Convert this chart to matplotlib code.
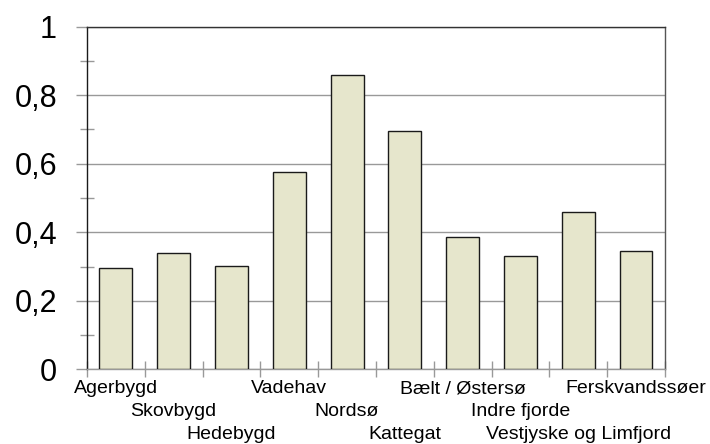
import matplotlib.pyplot as plt
from matplotlib.ticker import MultipleLocator, FuncFormatter

categories = ["Agerbygd", "Skovbygd", "Hedebygd", "Vadehav", "Nordsø",
              "Kattegat", "Bælt / Østersø", "Indre fjorde",
              "Vestjyske og Limfjord", "Ferskvandssøer"]
values = [0.297, 0.339, 0.301, 0.575, 0.858, 0.696, 0.385, 0.330, 0.458, 0.344]

plt.rcParams['font.family'] = ['Liberation Sans', 'DejaVu Sans']

fig = plt.figure(figsize=(7.1, 4.44), dpi=100)
ax = fig.add_axes([0.1225, 0.168, 0.814, 0.772])

x = list(range(len(categories)))
ax.bar(x, values, width=0.57, color='#e6e6cc', edgecolor='#1a1a1a',
       linewidth=1.0, zorder=3)

ax.set_xlim(-0.5, len(categories) - 0.5)
ax.set_ylim(0, 1)

ax.yaxis.set_major_locator(MultipleLocator(0.2))
ax.yaxis.set_minor_locator(MultipleLocator(0.1))
ax.yaxis.set_major_formatter(FuncFormatter(lambda v, p: ('%g' % round(v, 1)).replace('.', ',')))
ax.grid(axis='y', which='major', color='#999999', linewidth=1.0, zorder=0)
ax.tick_params(axis='y', which='major', direction='out', length=8, width=1,
               color='#999999', labelsize=22, pad=13.5)
ax.tick_params(axis='y', which='minor', direction='inout', length=10, width=1,
               color='#999999')

ax.set_xticks([i - 0.5 for i in range(len(categories) + 1)])
ax.set_xticklabels([])
ax.tick_params(axis='x', which='major', direction='inout', length=11.5, width=1,
               color='#999999')

# labels staggered over three rows, as in the original
for i, name in enumerate(categories):
    row = i % 3 if i < 9 else 0
    ax.annotate(name, xy=(i, 0), xycoords=('data', 'axes fraction'),
                xytext=(0, -(11 + 23 * row) * 0.72), textcoords='offset points',
                ha='center', va='top', fontsize=14)

ax.spines['left'].set_color('#1a1a1a')
ax.spines['top'].set_color('#333333')
ax.spines['right'].set_color('#555555')
ax.spines['bottom'].set_color('#999999')
for s in ax.spines.values():
    s.set_linewidth(1.0)

fig.savefig('out.png', dpi=100)
